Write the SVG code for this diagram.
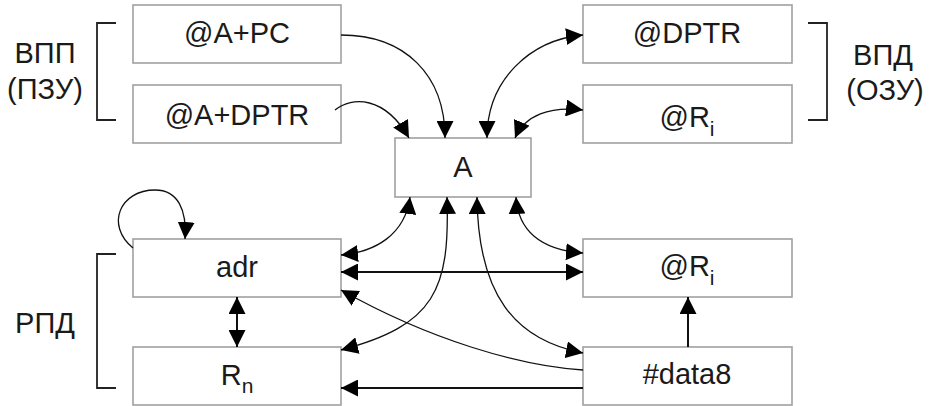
<svg xmlns="http://www.w3.org/2000/svg" width="934" height="406" viewBox="0 0 934 406">
<defs>
<marker id="ah" markerUnits="userSpaceOnUse" markerWidth="18" markerHeight="17" refX="17" refY="8.5" orient="auto-start-reverse" viewBox="0 0 18 17">
<path d="M0,0 L17,8.5 L0,17 z" fill="#000"/>
</marker>
<style>
.box{fill:#fff;stroke:#a0a0a0;stroke-width:1.6}
.t{font-family:"Liberation Sans",Arial,sans-serif;font-size:29px;fill:#1a1a1a;text-anchor:middle}
.sub{font-size:21px}
.c{fill:none;stroke:#111;stroke-width:1.3}
.s{fill:none;stroke:#111;stroke-width:2}
.br{fill:none;stroke:#222;stroke-width:1.8}
</style>
</defs>
<rect width="934" height="406" fill="#fff"/>

<g id="brackets">
<path class="br" d="M116,23 H97 V120 H116"/>
<path class="br" d="M808,23 H827 V120 H808"/>
<path class="br" d="M116,254 H97 V388 H116"/>
<text class="t" x="45" y="63">ВПП</text>
<text class="t" x="45" y="99">(ПЗУ)</text>
<text class="t" x="883" y="65">ВПД</text>
<text class="t" x="885" y="100">(ОЗУ)</text>
<text class="t" x="45" y="333">РПД</text>
</g>

<g id="n_apc"><rect class="box" x="133" y="5" width="208" height="58"/><text class="t" x="237" y="43">@A+PC</text></g>
<g id="n_adptr"><rect class="box" x="133" y="85" width="208" height="58"/><text class="t" x="237" y="125">@A+DPTR</text></g>
<g id="n_dptr"><rect class="box" x="583" y="5" width="209" height="58"/><text class="t" x="687" y="43">@DPTR</text></g>
<g id="n_ri_top"><rect class="box" x="583" y="85" width="209" height="58"/><text class="t" x="687" y="127">@R<tspan class="sub" dy="9">i</tspan></text></g>
<g id="n_a"><rect class="box" x="395" y="138" width="136" height="59"/><text class="t" x="463" y="177">A</text></g>
<g id="n_adr"><rect class="box" x="133" y="239" width="208" height="58"/><text class="t" x="237" y="277">adr</text></g>
<g id="n_rn"><rect class="box" x="133" y="347" width="208" height="58"/><text class="t" x="237" y="385">R<tspan class="sub" dy="8">n</tspan></text></g>
<g id="n_ri_bot"><rect class="box" x="583" y="239" width="209" height="58"/><text class="t" x="687" y="276">@R<tspan class="sub" dy="9">i</tspan></text></g>
<g id="n_data8"><rect class="box" x="583" y="347" width="209" height="58"/><text class="t" x="687" y="384">#data8</text></g>

<g id="connectors">
<path class="c" d="M341,35 C405,35 445,75 445,138" marker-end="url(#ah)"/>
<path class="c" d="M335,110 C352,96 385,96 409,138" marker-end="url(#ah)"/>
<path class="c" d="M487,138 C487,80 530,40 583,35" marker-start="url(#ah)" marker-end="url(#ah)"/>
<path class="c" d="M515,138 C525,115 550,106 583,110" marker-start="url(#ah)" marker-end="url(#ah)"/>
<path class="c" d="M133,248 C105,225 120,190 155,190 C178,190 187,210 185,239" marker-end="url(#ah)"/>
<path class="c" d="M341,255 C375,252 405,235 410,197" marker-start="url(#ah)" marker-end="url(#ah)"/>
<path class="s" d="M341,272 H583" marker-start="url(#ah)" marker-end="url(#ah)"/>
<path class="c" d="M583,370 C520,366 430,340 341,290" marker-end="url(#ah)"/>
<path class="c" d="M447,197 C450,290 435,325 341,350" marker-start="url(#ah)" marker-end="url(#ah)"/>
<path class="c" d="M477,197 C478,295 515,340 583,353" marker-start="url(#ah)" marker-end="url(#ah)"/>
<path class="c" d="M516,197 C518,230 540,250 583,253" marker-start="url(#ah)" marker-end="url(#ah)"/>
<path class="s" d="M688,347 V297" marker-end="url(#ah)"/>
<path class="s" d="M583,388 H341" marker-end="url(#ah)"/>
<path class="s" d="M237,297 V347" marker-start="url(#ah)" marker-end="url(#ah)"/>
</g>
</svg>
